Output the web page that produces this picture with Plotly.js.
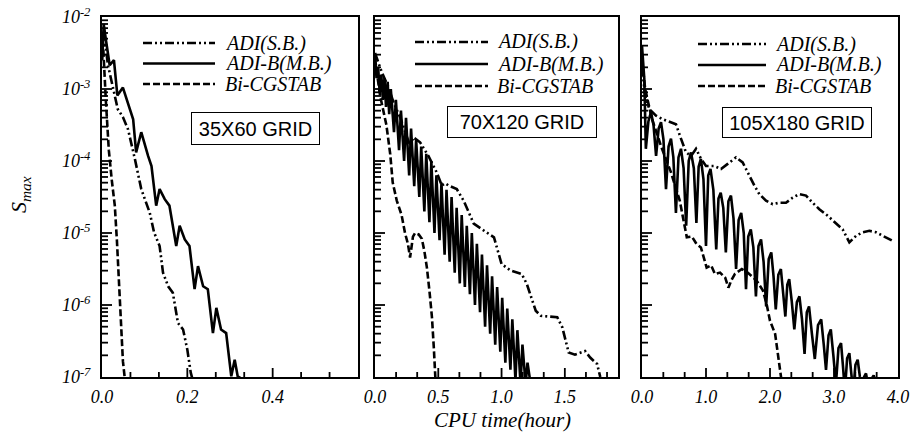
<!DOCTYPE html>
<html><head><meta charset="utf-8">
<script src="https://cdn.plot.ly/plotly-3.0.1.min.js"></script>
<style>html,body{margin:0;padding:0;background:#fff}</style>
</head><body><div id="chart" style="width:914px;height:436px"></div>
<script>
// Series names
const seriesNames = ["ADI(S.B.)", "ADI-B(M.B.)", "Bi-CGSTAB"];
const gridLabels = ["35X60 GRID", "70X120 GRID", "105X180 GRID"];
const xTitle = "CPU time(hour)";

// ---- Panel 1 (35x60): CPU time (hour) and log10(S_max) ----
const p1_adisb_t = [0, 0.004, 0.014, 0.037, 0.049, 0.061, 0.077, 0.092, 0.112, 0.122, 0.135, 0.143, 0.155, 0.166, 0.178, 0.190, 0.200, 0.208, 0.213];
const p1_adisb_v = [-2.5, -2.2, -2.67, -3.28, -3.39, -3.56, -3.97, -4.39, -4.72, -4.99, -5.18, -5.55, -5.74, -5.83, -6.25, -6.34, -6.62, -6.94, -7.05];
const p1_adib_t = [0, 0.004, 0.01, 0.018, 0.028, 0.036, 0.049, 0.065, 0.073, 0.080, 0.092, 0.108, 0.116, 0.127, 0.135, 0.147, 0.158, 0.174, 0.182, 0.194, 0.205, 0.217, 0.225, 0.237, 0.248, 0.260, 0.268, 0.279, 0.291, 0.303, 0.311, 0.318, 0.334];
const p1_adib_v = [-2.6, -2.1, -2.35, -2.67, -2.6, -3.09, -2.98, -3.28, -3.42, -3.88, -3.6, -3.93, -4.07, -4.62, -4.39, -4.53, -4.62, -5.18, -4.9, -5.09, -5.18, -5.78, -5.46, -5.74, -5.78, -6.39, -6.04, -6.34, -6.39, -6.99, -6.76, -6.99, -7.05];
const p1_bicg_t = [0, 0.002, 0.009, 0.016, 0.023, 0.030, 0.035, 0.040, 0.044, 0.049, 0.054];
const p1_bicg_v = [-2.6, -2.32, -3.16, -3.85, -4.27, -4.62, -5.11, -5.66, -6.22, -6.78, -7.05];

// ---- Panel 2 (70x120) ----
const p2_adisb_t = [0, 0.05, 0.1, 0.15, 0.2, 0.25, 0.277, 0.303, 0.356, 0.422, 0.488, 0.528, 0.555, 0.580, 0.646, 0.70, 0.78, 0.88, 0.94, 1.0, 1.07, 1.16, 1.20, 1.27, 1.31, 1.44, 1.48, 1.53, 1.58, 1.66, 1.70, 1.755, 1.78];
const p2_adisb_v = [-2.5, -2.75, -2.95, -3.2, -3.4, -3.65, -3.79, -3.67, -3.74, -3.93, -4.16, -4.34, -4.31, -4.34, -4.39, -4.55, -4.87, -4.99, -5.06, -5.43, -5.52, -5.57, -5.71, -6.08, -6.15, -6.17, -6.31, -6.66, -6.69, -6.64, -6.73, -6.82, -7.0];
const p2_adib_t = [0, 0.012, 0.025, 0.037, 0.05, 0.062, 0.075, 0.087, 0.10, 0.112, 0.125, 0.15, 0.165, 0.19, 0.205, 0.23, 0.245, 0.27, 0.285, 0.31, 0.325, 0.35, 0.365, 0.39, 0.405, 0.43, 0.445, 0.47, 0.485, 0.51, 0.525, 0.55, 0.565, 0.59, 0.605, 0.63, 0.645, 0.67, 0.685, 0.71, 0.725, 0.75, 0.765, 0.79, 0.805, 0.83, 0.845, 0.87, 0.885, 0.91, 0.925, 0.95, 0.965, 0.99, 1.005, 1.03, 1.045, 1.07, 1.085, 1.11, 1.125, 1.15, 1.165, 1.19, 1.205, 1.23];
const p2_adib_v = [-2.55, -2.85, -2.7, -3.05, -2.8, -3.15, -2.85, -3.25, -2.9, -3.35, -3.0, -3.6, -3.15, -3.85, -3.3, -4.0, -3.4, -4.2, -3.55, -4.35, -3.7, -4.5, -3.8, -4.7, -3.9, -4.85, -4.0, -5.0, -4.2, -5.1, -4.3, -5.3, -4.4, -5.4, -4.5, -5.55, -4.65, -5.7, -4.75, -5.75, -4.9, -5.85, -5.0, -6.0, -5.15, -6.1, -5.3, -6.3, -5.45, -6.4, -5.6, -6.55, -5.75, -6.65, -5.9, -6.8, -6.05, -6.9, -6.2, -7.05, -6.35, -7.1, -6.55, -7.1, -6.8, -7.1];
const p2_bicg_t = [0, 0.04, 0.09, 0.12, 0.14, 0.172, 0.21, 0.237, 0.26, 0.277, 0.30, 0.317, 0.345, 0.37, 0.39, 0.41, 0.43, 0.45, 0.465, 0.478];
const p2_bicg_v = [-2.58, -3.09, -3.5, -3.9, -4.3, -4.55, -4.75, -5.0, -5.15, -5.34, -5.05, -5.0, -5.02, -5.08, -5.25, -5.48, -5.8, -6.17, -6.6, -7.05];

// ---- Panel 3 (105x180) ----
const p3_adisb_t = [0, 0.05, 0.115, 0.219, 0.323, 0.427, 0.531, 0.609, 0.688, 0.766, 0.844, 0.922, 1.0, 1.13, 1.234, 1.339, 1.469, 1.573, 1.677, 1.755, 1.833, 1.938, 2.042, 2.146, 2.25, 2.354, 2.458, 2.563, 2.667, 2.771, 2.901, 3.031, 3.135, 3.24, 3.344, 3.448, 3.552, 3.656, 3.76, 3.917];
const p3_adisb_v = [-2.7, -3.1, -3.28, -3.37, -3.42, -3.46, -3.49, -3.69, -3.88, -3.93, -3.83, -3.97, -4.07, -4.07, -4.11, -4.04, -3.95, -4.02, -4.21, -4.34, -4.46, -4.55, -4.60, -4.58, -4.58, -4.51, -4.46, -4.48, -4.58, -4.67, -4.76, -4.86, -4.95, -5.13, -5.04, -4.99, -4.97, -4.99, -5.04, -5.11];
const p3_adib_t = [0, 0.036, 0.06, 0.10, 0.14, 0.18, 0.22, 0.26, 0.297, 0.335, 0.375, 0.415, 0.453, 0.49, 0.53, 0.57, 0.609, 0.65, 0.69, 0.73, 0.766, 0.81, 0.85, 0.885, 0.92, 0.96, 1.0, 1.035, 1.07, 1.115, 1.16, 1.195, 1.23, 1.27, 1.31, 1.35, 1.39, 1.43, 1.47, 1.51, 1.55, 1.59, 1.625, 1.66, 1.70, 1.74, 1.78, 1.82, 1.86, 1.90, 1.94, 1.98, 2.02, 2.055, 2.09, 2.13, 2.17, 2.205, 2.24, 2.27, 2.30, 2.34, 2.38, 2.42, 2.46, 2.50, 2.54, 2.575, 2.61, 2.655, 2.70, 2.75, 2.80, 2.84, 2.875, 2.915, 2.95, 2.99, 3.03, 3.07, 3.11, 3.14, 3.17, 3.205, 3.24, 3.27, 3.30, 3.335, 3.37, 3.405, 3.44, 3.47, 3.50, 3.53, 3.56, 3.59, 3.62, 3.67];
const p3_adib_v = [-2.4, -2.86, -3.83, -3.45, -3.32, -3.5, -3.93, -3.55, -3.46, -3.7, -4.39, -3.8, -3.69, -3.95, -4.72, -3.95, -3.83, -4.1, -4.90, -4.0, -3.88, -4.1, -4.86, -4.08, -3.97, -4.25, -5.18, -4.2, -4.11, -4.4, -5.23, -4.52, -4.44, -4.65, -5.27, -4.56, -4.48, -4.8, -5.5, -4.82, -4.72, -5.0, -5.78, -5.05, -4.95, -5.2, -5.88, -5.18, -5.09, -5.4, -6.02, -5.36, -5.27, -5.6, -6.06, -5.58, -5.5, -5.8, -6.16, -5.72, -5.64, -5.95, -6.34, -5.96, -5.88, -6.2, -6.68, -6.1, -6.02, -6.4, -6.75, -6.28, -6.20, -6.55, -6.9, -6.42, -6.34, -6.7, -7.1, -6.6, -6.53, -6.85, -7.2, -6.74, -6.67, -6.95, -7.2, -6.83, -6.76, -7.0, -7.2, -7.0, -6.95, -7.1, -7.2, -7.02, -6.98, -7.1];
const p3_bicg_t = [0, 0.05, 0.15, 0.3, 0.45, 0.59, 0.70, 0.78, 0.85, 0.92, 1.01, 1.08, 1.14, 1.22, 1.30, 1.35, 1.40, 1.45, 1.56, 1.65, 1.79, 1.89, 1.95, 2.0, 2.08, 2.13, 2.18];
const p3_bicg_v = [-2.6, -3.0, -3.4, -3.8, -4.15, -4.55, -5.06, -5.05, -5.15, -5.2, -5.48, -5.45, -5.57, -5.55, -5.62, -5.76, -5.65, -5.57, -5.50, -5.55, -5.66, -5.80, -6.0, -6.22, -6.40, -6.73, -7.05];

// tick labels
const yDecades = [-7, -6, -5, -4, -3, -2];
const yDecadeLabels = ["10<sup>-7</sup>", "10<sup>-6</sup>", "10<sup>-5</sup>", "10<sup>-4</sup>", "10<sup>-3</sup>", "10<sup>-2</sup>"];
const xMajor = [[0, 0.2, 0.4], [0, 0.5, 1.0, 1.5], [0, 1, 2, 3, 4]];
const xMajorLabels = [["0.0", "0.2", "0.4"], ["0.0", "0.5", "1.0", "1.5"], ["0.0", "1.0", "2.0", "3.0", "4.0"]];

const W = 914, H = 436;
const px = v => v / W, py = v => 1 - v / H;

const styles = [
  {color: "black", width: 2.6, dash: "9px,3px,2px,3px,2px,3px"},
  {color: "black", width: 2.6, dash: "solid"},
  {color: "black", width: 2.6, dash: "7px,3px"}
];

const xDom = [[102, 358], [375, 618], [642, 898]];
const xRanges = [[0, 0.6], [0, 1.92], [0, 4.0]];
const yTop = 17, yBot = 377;
const yDom = [py(yBot), py(yTop)];
const yRangeLog = [-7, -2];

const panels = [
  {ax: "", data: [[p1_adisb_t, p1_adisb_v], [p1_adib_t, p1_adib_v], [p1_bicg_t, p1_bicg_v]]},
  {ax: "2", data: [[p2_adisb_t, p2_adisb_v], [p2_adib_t, p2_adib_v], [p2_bicg_t, p2_bicg_v]]},
  {ax: "3", data: [[p3_adisb_t, p3_adisb_v], [p3_adib_t, p3_adib_v], [p3_bicg_t, p3_bicg_v]]}
];

const traces = [];
panels.forEach((p, i) => {
  p.data.forEach((d, si) => {
    traces.push({
      type: "scatter", mode: "lines",
      x: d[0], y: d[1].map(e => Math.pow(10, e)),
      name: seriesNames[si],
      line: styles[si],
      xaxis: "x" + p.ax, yaxis: "y" + p.ax,
      showlegend: false, hoverinfo: "skip"
    });
  });

  // inside tick marks on bottom and left edges, drawn through the panel's own scales
  const plotW = xDom[i][1] - xDom[i][0], plotH = yBot - yTop;
  const xSpan = xRanges[i][1] - xRanges[i][0];
  const decPerPx = (yRangeLog[1] - yRangeLog[0]) / plotH;
  const tx = [], ty = [];
  const step = xMajor[i][1] - xMajor[i][0];
  for (let k = 1; k * step / 3 < xRanges[i][1] - 1e-9; k++) {
    const v = k * step / 3, len = (k % 3 === 0) ? 9 : 5;
    tx.push(v, v, null);
    ty.push(Math.pow(10, yRangeLog[0]), Math.pow(10, yRangeLog[0] + len * decPerPx), null);
  }
  yDecades.forEach(e => {
    for (let m = 1; m <= 9; m++) {
      if (e === -2 && m > 1) break;
      const lv = Math.log10(m) + e;
      if (lv <= yRangeLog[0] + 0.005 || lv >= yRangeLog[1] - 0.005) continue;
      const len = m === 1 ? 10 : 6;
      tx.push(xRanges[i][0], xRanges[i][0] + len * xSpan / plotW, null);
      ty.push(Math.pow(10, lv), Math.pow(10, lv), null);
    }
  });
  traces.push({
    type: "scatter", mode: "lines", x: tx, y: ty, connectgaps: false,
    line: {color: "black", width: 1.8}, xaxis: "x" + p.ax, yaxis: "y" + p.ax,
    showlegend: false, hoverinfo: "skip", cliponaxis: false
  });
});

const serifItalic = (s) => ({family: "Liberation Serif, Times New Roman, serif", size: s, style: "italic", color: "black"});

const layout = {
  width: W, height: H, autosize: false,
  margin: {l: 0, r: 0, t: 0, b: 0},
  paper_bgcolor: "white", plot_bgcolor: "white",
  showlegend: false,
  annotations: [],
  shapes: []
};

[0, 1, 2].forEach(i => {
  const s = i === 0 ? "" : String(i + 1);
  layout["xaxis" + s] = {
    domain: [px(xDom[i][0]), px(xDom[i][1])],
    range: xRanges[i], anchor: "y" + s,
    tickmode: "array", tickvals: xMajor[i], ticktext: xMajorLabels[i],
    ticks: "",
    showline: true, linecolor: "black", linewidth: 2, mirror: true,
    showgrid: false, zeroline: false,
    tickfont: serifItalic(18), ticklabelstandoff: 2
  };
  layout["yaxis" + s] = {
    domain: yDom, type: "log", range: yRangeLog, anchor: "x" + s,
    tickmode: "array", tickvals: yDecades.map(e => Math.pow(10, e)), ticktext: yDecadeLabels,
    ticks: "",
    showline: true, linecolor: "black", linewidth: 2, mirror: true,
    showgrid: false, zeroline: false,
    showticklabels: i === 0,
    tickfont: serifItalic(18), ticklabelstandoff: 6
  };
});

// legend keys: sample line (x0,x1) and text start, rows (y centers)
const legendPos = [
  [143, 215, 223, [43, 63.5, 84]],
  [415, 488, 495, [42, 64, 86]],
  [698, 766, 773, [44, 65, 86]]
];
legendPos.forEach(([x0, x1, tx, rows]) => {
  rows.forEach((ry, si) => {
    layout.shapes.push({
      type: "line", xref: "paper", yref: "paper",
      x0: px(x0), x1: px(x1), y0: py(ry), y1: py(ry),
      line: styles[si]
    });
    layout.annotations.push({
      xref: "paper", yref: "paper", x: px(tx), y: py(ry),
      xanchor: "left", yanchor: "middle", showarrow: false,
      text: seriesNames[si], font: serifItalic(20)
    });
  });
});

// grid boxes
const boxes = [[255, 129, 129, 33], [522, 122, 150, 32], [797, 122, 150, 31]];
boxes.forEach((b, i) => {
  layout.annotations.push({
    xref: "paper", yref: "paper", x: px(b[0]), y: py(b[1]),
    xanchor: "center", yanchor: "middle", showarrow: false,
    text: gridLabels[i], width: b[2] - 2, height: b[3] - 2,
    font: {family: "Liberation Sans, Arial, sans-serif", size: 20, color: "black"},
    bordercolor: "black", borderwidth: 1, borderpad: 0, bgcolor: "white"
  });
});

// axis titles
layout.annotations.push({
  xref: "paper", yref: "paper", x: px(502), y: py(420), xanchor: "center", yanchor: "middle",
  showarrow: false, text: xTitle, font: serifItalic(21)
});
layout.annotations.push({
  xref: "paper", yref: "paper", x: px(20), y: py(195), xanchor: "center", yanchor: "middle",
  showarrow: false, textangle: -90, text: "S<sub>max</sub>", font: serifItalic(22)
});

Plotly.newPlot("chart", traces, layout, {staticPlot: true, displayModeBar: false});
</script></body></html>
